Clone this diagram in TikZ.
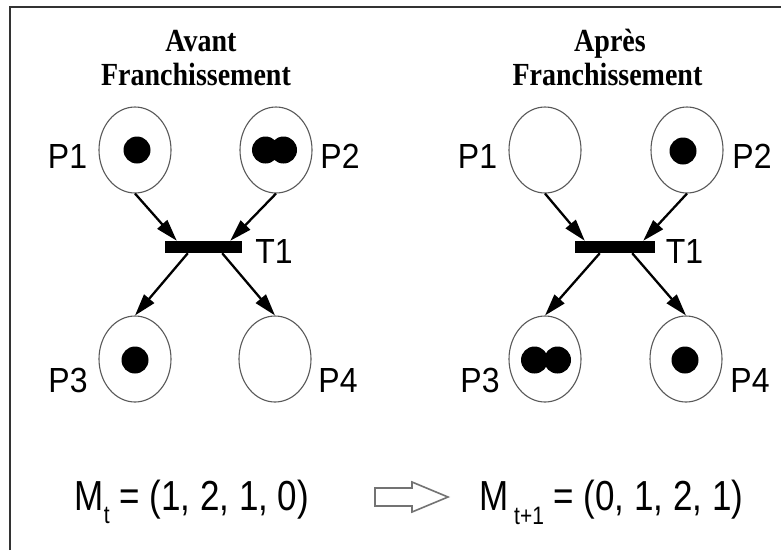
\documentclass[tikz,border=0pt]{standalone}
\usepackage{graphicx}
\usepackage{fontspec}
\setmainfont{Liberation Serif}
\newfontfamily\lsans{Liberation Sans}
\usetikzlibrary{shapes.geometric,arrows.meta}
\newcommand\vstretch[2]{\scalebox{1}[#1]{#2}}
\tikzset{
  place/.style={ellipse, draw=black!65, fill=white, line width=1.1pt, minimum width=72pt, minimum height=86pt, inner sep=0pt},
  bar/.style={rectangle, fill=black, inner sep=0pt, minimum height=12pt},
  arc/.style={draw=black, line width=2.3pt, -{Triangle[length=22pt,width=13pt]}},
  token/.style={fill=black},
  title/.style={inner sep=0pt, anchor=base, font=\fontsize{28}{28}\selectfont\bfseries},
  plabel/.style={inner sep=0pt, anchor=base, font=\lsans\fontsize{32}{32}\selectfont},
  formula/.style={inner sep=0pt, anchor=base west, font=\lsans\fontsize{35}{35}\selectfont},
  frame/.style={draw=black!80, line width=1.8pt}
}
\begin{document}
\begin{tikzpicture}[x=1pt,y=-1pt]
\useasboundingbox (0,0) rectangle (781,550);
\fill[white] (0,0) rectangle (781,550);
\draw[frame] (10,550) -- (10,7) -- (781,7);

% ---------- left net ----------
\node[title] (tA1) at (201,51) {\vstretch{1.15}{Avant}};
\node[title] (tA2) at (196,85) {\vstretch{1.15}{Franchissement}};
\node[place] (aP1) at (135,150) {};
\node[place] (aP2) at (276,150) {};
\node[place] (aP3) at (135,359) {};
\node[place] (aP4) at (275,359) {};
\node[bar, minimum width=77pt] (aT) at (203.5,247) {};
\fill[token] (137,150) circle (13.5);
\fill[token] (265.5,150) circle (13.5);
\fill[token] (283.5,150) circle (13.5);
\fill[token] (135,360) circle (13.5);
\node[plabel] (laP1) at (67.5,168) {\vstretch{1.09}{P1}};
\node[plabel] (laP2) at (340,168) {\vstretch{1.09}{P2}};
\node[plabel] (laP3) at (68,392) {\vstretch{1.09}{P3}};
\node[plabel] (laP4) at (338,392) {\vstretch{1.09}{P4}};
\node[plabel] (laT) at (274,263) {\vstretch{1.09}{T1}};
\draw[arc] (aP1.south) -- ([xshift=12pt]aT.north west);
\draw[arc] (aP2.south) -- ([xshift=-12pt]aT.north east);
\draw[arc] ([xshift=23pt]aT.south west) -- (aP3.north);
\draw[arc] ([xshift=-20pt]aT.south east) -- (aP4.north);

% ---------- right net ----------
\node[title] (tB1) at (610,51) {\vstretch{1.15}{Après}};
\node[title] (tB2) at (607.5,85) {\vstretch{1.15}{Franchissement}};
\node[place] (bP1) at (545,150) {};
\node[place] (bP2) at (687,150) {};
\node[place] (bP3) at (545,359) {};
\node[place] (bP4) at (686,359) {};
\node[bar, minimum width=80pt] (bT) at (615,247) {};
\fill[token] (683,151) circle (13.5);
\fill[token] (534.5,360) circle (13.5);
\fill[token] (557.5,360) circle (13.5);
\fill[token] (685,360) circle (13.5);
\node[plabel] (lbP1) at (477.5,168) {\vstretch{1.09}{P1}};
\node[plabel] (lbP2) at (752,168) {\vstretch{1.09}{P2}};
\node[plabel] (lbP3) at (480,392) {\vstretch{1.09}{P3}};
\node[plabel] (lbP4) at (750,392) {\vstretch{1.09}{P4}};
\node[plabel] (lbT) at (684.5,263) {\vstretch{1.09}{T1}};
\draw[arc] (bP1.south) -- ([xshift=10pt]bT.north west);
\draw[arc] (bP2.south) -- ([xshift=-12pt]bT.north east);
\draw[arc] ([xshift=25pt]bT.south west) -- (bP3.north);
\draw[arc] ([xshift=-23pt]bT.south east) -- (bP4.north);

% ---------- markings ----------
\node[formula] (Mt) at (74.5,510) {\vstretch{1.2}{M\raisebox{-11pt}{\fontsize{21}{21}\selectfont t} = (1, 2, 1, 0)}};
\node[formula] (Mt1) at (479,510) {\vstretch{1.2}{M\,\raisebox{-12pt}{\fontsize{21}{21}\selectfont t+1} = (0, 1, 2, 1)}};
\draw[draw=black!55, line width=1.6pt, fill=white]
  (375,488) -- (412,488) -- (412,482) -- (448,497) -- (412,512) -- (412,506) -- (375,506) -- cycle;
\end{tikzpicture}
\end{document}
